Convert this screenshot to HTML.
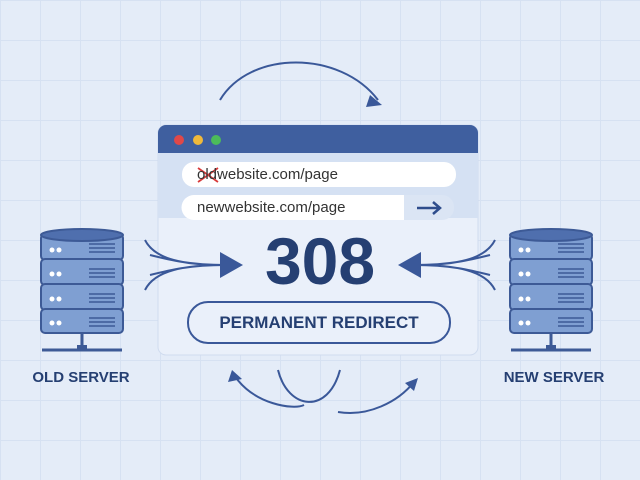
<!DOCTYPE html>
<html><head><style>
body{margin:0;width:640px;height:480px;overflow:hidden;background:#e4ecf8;font-family:"Liberation Sans",sans-serif;position:relative}
.grid{position:absolute;inset:0;background-image:linear-gradient(#d6e1f2 1px,transparent 1px),linear-gradient(90deg,#d6e1f2 1px,transparent 1px);background-size:40px 40px}
.t{position:absolute;color:#253f72;font-weight:bold}
</style></head><body>
<div class="grid"></div>
<svg width="640" height="480" style="position:absolute;left:0;top:0">
<defs>
<g id="srv">
 <g fill="#7f9fd2" stroke="#3d5a96" stroke-width="2">
  <rect x="0" y="6" width="82" height="26" rx="4"/>
  <rect x="0" y="31" width="82" height="26" rx="4"/>
  <rect x="0" y="56" width="82" height="26" rx="4"/>
  <rect x="0" y="81" width="82" height="24" rx="4"/>
  <ellipse cx="41" cy="7" rx="41" ry="6" fill="#4f6fae"/>
 </g>
 <g fill="#fff"><circle cx="11" cy="22" r="2.5"/><circle cx="18" cy="22" r="2.5"/><circle cx="11" cy="46" r="2.5"/><circle cx="18" cy="46" r="2.5"/><circle cx="11" cy="71" r="2.5"/><circle cx="18" cy="71" r="2.5"/><circle cx="11" cy="95" r="2.5"/><circle cx="18" cy="95" r="2.5"/></g>
 <g stroke="#3d5a96" stroke-width="1.5"><path d="M48 16h26M48 20h26M48 24h26M48 41h26M48 45h26M48 49h26M48 66h26M48 70h26M48 74h26M48 90h26M48 94h26M48 98h26"/></g>
 <path d="M41 105v16M1 122h80" stroke="#3d5a96" stroke-width="3" fill="none"/>
 <rect x="36" y="117" width="10" height="6" fill="#3d5a96"/>
</g>
</defs>
<rect x="158" y="125" width="320" height="230" rx="8" fill="#eaf0fa" stroke="#d0dcef"/>
<path d="M158 218h320v-65h-320z" fill="#d5e1f3"/>
<path d="M166 125h304a8 8 0 0 1 8 8v20h-320v-20a8 8 0 0 1 8-8z" fill="#3f5f9f"/>
<circle cx="179" cy="140" r="5" fill="#e04848"/><circle cx="198" cy="140" r="5" fill="#f0b93a"/><circle cx="216" cy="140" r="5" fill="#4cbb5a"/>
<rect x="182" y="162" width="274" height="25" rx="12" fill="#fff"/>
<rect x="182" y="195" width="272" height="25" rx="12" fill="#dbe5f4"/>
<path d="M194 195h210v25h-210a12 12 0 0 1 0-25z" fill="#fff"/>
<path d="M417 208h23M433 202l7 6-7 6" stroke="#2e4d8c" stroke-width="2.5" fill="none"/>
<path d="M198 168l20 14M218 168l-20 14" stroke="#d83a3a" stroke-width="1.8"/>
<rect x="188" y="302" width="262" height="41" rx="20" fill="none" stroke="#3a5899" stroke-width="2"/>
<g stroke="#3a5899" stroke-width="2" fill="none">
<path d="M145 240c10 20 40 25 80 25M145 290c10-20 40-25 80-25M150 255c20 5 40 10 75 10M150 275c20-5 40-10 75-10"/>
<path d="M495 240c-10 20-40 25-80 25M495 290c-10-20-40-25-80-25M490 255c-20 5-40 10-75 10M490 275c-20-5-40-10-75-10"/>
<path d="M220 100c30-50 120-50 158 0"/>
<path d="M278 370c10 40 50 45 62 0"/>
<path d="M234 375c20 30 60 35 70 30"/>
<path d="M338 412c30 5 60-10 76-30"/>
</g>
<g fill="#3a5899">
<path d="M220 252l23 13-23 13z"/><path d="M421 252l-23 13 23 13z"/>
<path d="M370 95l12 10-16 2z"/><path d="M228 382l4-12 10 9z"/><path d="M418 378l-4 13-9-8z"/>
</g>
<use href="#srv" x="41" y="228"/>
<use href="#srv" x="510" y="228"/>
</svg>
<div class="t" style="left:197px;top:166px;font-weight:normal;font-size:15px;color:#333">oldwebsite.com/page</div>
<div class="t" style="left:197px;top:199px;font-weight:normal;font-size:15px;color:#333">newwebsite.com/page</div>
<div class="t" style="left:200px;top:225px;width:240px;text-align:center;font-size:66px;line-height:72px">308</div>
<div class="t" style="left:188px;top:313px;width:262px;text-align:center;font-size:17px">PERMANENT REDIRECT</div>
<div class="t" style="left:21px;top:369px;width:120px;text-align:center;font-size:15px">OLD SERVER</div>
<div class="t" style="left:494px;top:369px;width:120px;text-align:center;font-size:15px">NEW SERVER</div>
</body></html>
